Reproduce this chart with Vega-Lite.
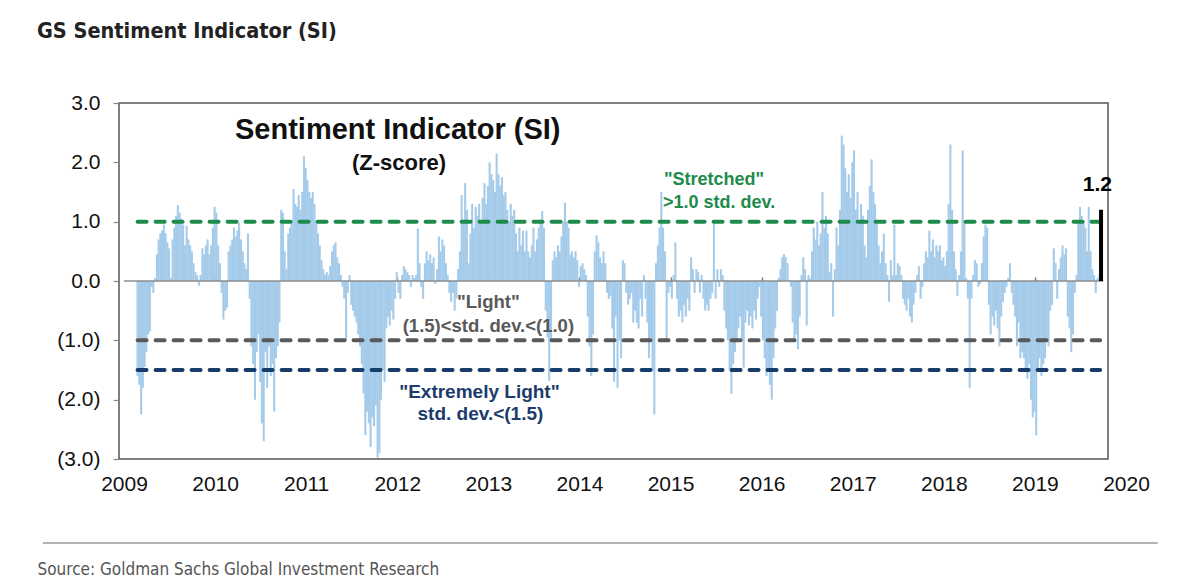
{
"$schema": "https://vega.github.io/schema/vega-lite/v6.json",
"width": 989,
"height": 356,
"autosize": {"type": "none"},
"padding": {"left": 119, "top": 103, "right": 92, "bottom": 127},
"background": "white",
"config": {
  "view": {"stroke": "#555555", "strokeWidth": 1.5},
  "axis": {"grid": false},
  "font": "Liberation Sans, Arial, sans-serif"
},
"title": {
  "text": "GS Sentiment Indicator (SI)",
  "anchor": "start",
  "frame": "group",
  "dx": -82,
  "offset": 33,
  "baseline": "alphabetic",
  "font": "Liberation Sans Narrow, DejaVu Sans Condensed, Liberation Sans, sans-serif",
  "fontSize": 21.5,
  "fontWeight": "bold",
  "color": "#222222"
},
"data": {"values": [
{"t":2009.149,"v":-1.6},{"t":2009.168,"v":-1.75},{"t":2009.188,"v":-2.25},{"t":2009.207,"v":-1.8},{"t":2009.226,"v":-1.45},{"t":2009.245,"v":-1.2},{"t":2009.264,"v":-0.9},{"t":2009.284,"v":-0.85},{"t":2009.303,"v":-0.1},{"t":2009.322,"v":-0.2},{"t":2009.341,"v":0.05},{"t":2009.361,"v":0.45},{"t":2009.38,"v":0.7},{"t":2009.399,"v":0.8},{"t":2009.418,"v":0.85},{"t":2009.438,"v":0.95},{"t":2009.457,"v":0.8},{"t":2009.476,"v":0.65},{"t":2009.495,"v":0.55},{"t":2009.514,"v":0.05},{"t":2009.534,"v":0.7},{"t":2009.553,"v":0.9},{"t":2009.572,"v":1.1},{"t":2009.591,"v":1.28},{"t":2009.611,"v":1.15},{"t":2009.63,"v":1.05},{"t":2009.649,"v":0.95},{"t":2009.668,"v":0.6},{"t":2009.688,"v":0.93},{"t":2009.707,"v":0.7},{"t":2009.726,"v":0.6},{"t":2009.745,"v":0.5},{"t":2009.764,"v":0.3},{"t":2009.784,"v":0.15},{"t":2009.803,"v":0.1},{"t":2009.822,"v":-0.08},{"t":2009.841,"v":0.1},{"t":2009.861,"v":0.55},{"t":2009.88,"v":0.45},{"t":2009.899,"v":0.6},{"t":2009.918,"v":0.7},{"t":2009.938,"v":0.45},{"t":2009.957,"v":0.6},{"t":2009.976,"v":0.9},{"t":2009.995,"v":1.25},
{"t":2010.014,"v":1.15},{"t":2010.034,"v":0.6},{"t":2010.053,"v":0.3},{"t":2010.072,"v":-0.2},{"t":2010.091,"v":-0.65},{"t":2010.111,"v":-0.5},{"t":2010.13,"v":-0.45},{"t":2010.149,"v":0.5},{"t":2010.168,"v":0.6},{"t":2010.188,"v":0.7},{"t":2010.207,"v":0.9},{"t":2010.226,"v":0.75},{"t":2010.245,"v":0.85},{"t":2010.264,"v":0.98},{"t":2010.284,"v":0.7},{"t":2010.303,"v":0.5},{"t":2010.322,"v":0.3},{"t":2010.341,"v":0.2},{"t":2010.361,"v":0.8},{"t":2010.38,"v":-0.3},{"t":2010.399,"v":-1.1},{"t":2010.418,"v":-1.4},{"t":2010.438,"v":-2.0},{"t":2010.457,"v":-1.2},{"t":2010.476,"v":-0.9},{"t":2010.495,"v":-1.7},{"t":2010.514,"v":-2.4},{"t":2010.534,"v":-2.7},{"t":2010.553,"v":-1.2},{"t":2010.572,"v":-1.8},{"t":2010.591,"v":-1.1},{"t":2010.611,"v":-1.6},{"t":2010.63,"v":-1.4},{"t":2010.649,"v":-2.2},{"t":2010.668,"v":-1.3},{"t":2010.688,"v":-1.1},{"t":2010.707,"v":-0.7},{"t":2010.726,"v":1.2},{"t":2010.745,"v":1.15},{"t":2010.764,"v":0.5},{"t":2010.784,"v":0.2},{"t":2010.803,"v":0.8},{"t":2010.822,"v":0.9},{"t":2010.841,"v":1.0},{"t":2010.861,"v":1.55},{"t":2010.88,"v":1.3},{"t":2010.899,"v":1.25},{"t":2010.918,"v":1.45},{"t":2010.938,"v":1.2},{"t":2010.957,"v":1.5},{"t":2010.976,"v":2.1},{"t":2010.995,"v":1.9},
{"t":2011.014,"v":1.7},{"t":2011.034,"v":1.5},{"t":2011.053,"v":1.4},{"t":2011.072,"v":1.5},{"t":2011.091,"v":1.3},{"t":2011.111,"v":1.0},{"t":2011.13,"v":0.8},{"t":2011.149,"v":0.6},{"t":2011.168,"v":0.35},{"t":2011.188,"v":0.2},{"t":2011.207,"v":0.1},{"t":2011.226,"v":0.15},{"t":2011.245,"v":0.1},{"t":2011.264,"v":0.25},{"t":2011.284,"v":0.5},{"t":2011.303,"v":0.6},{"t":2011.322,"v":0.65},{"t":2011.341,"v":0.4},{"t":2011.361,"v":0.3},{"t":2011.38,"v":0.1},{"t":2011.399,"v":-0.1},{"t":2011.418,"v":-0.3},{"t":2011.438,"v":-1.0},{"t":2011.457,"v":-0.2},{"t":2011.476,"v":0.1},{"t":2011.495,"v":-0.4},{"t":2011.514,"v":-0.5},{"t":2011.534,"v":-0.6},{"t":2011.553,"v":-0.7},{"t":2011.572,"v":-0.9},{"t":2011.591,"v":-1.1},{"t":2011.611,"v":-1.4},{"t":2011.63,"v":-1.9},{"t":2011.649,"v":-2.6},{"t":2011.668,"v":-2.2},{"t":2011.688,"v":-2.4},{"t":2011.707,"v":-2.8},{"t":2011.726,"v":-2.3},{"t":2011.745,"v":-2.45},{"t":2011.764,"v":-2.1},{"t":2011.784,"v":-2.98},{"t":2011.803,"v":-2.9},{"t":2011.822,"v":-2.0},{"t":2011.841,"v":-1.5},{"t":2011.861,"v":-1.7},{"t":2011.88,"v":-0.8},{"t":2011.899,"v":-0.6},{"t":2011.918,"v":-0.75},{"t":2011.938,"v":-0.5},{"t":2011.957,"v":-0.65},{"t":2011.976,"v":-0.3},{"t":2011.995,"v":0.15},
{"t":2012.014,"v":-0.2},{"t":2012.034,"v":-0.3},{"t":2012.053,"v":0.1},{"t":2012.072,"v":0.25},{"t":2012.091,"v":0.2},{"t":2012.111,"v":0.15},{"t":2012.13,"v":0.1},{"t":2012.149,"v":-0.1},{"t":2012.168,"v":0.1},{"t":2012.188,"v":0.05},{"t":2012.207,"v":0.1},{"t":2012.226,"v":0.88},{"t":2012.245,"v":0.3},{"t":2012.264,"v":-0.1},{"t":2012.284,"v":-0.3},{"t":2012.303,"v":0.3},{"t":2012.322,"v":0.5},{"t":2012.341,"v":0.35},{"t":2012.361,"v":0.45},{"t":2012.38,"v":0.3},{"t":2012.399,"v":0.4},{"t":2012.418,"v":-0.05},{"t":2012.438,"v":0.2},{"t":2012.457,"v":0.75},{"t":2012.476,"v":0.5},{"t":2012.495,"v":0.7},{"t":2012.514,"v":0.6},{"t":2012.534,"v":0.3},{"t":2012.553,"v":0.1},{"t":2012.572,"v":-0.2},{"t":2012.591,"v":-0.35},{"t":2012.611,"v":-0.2},{"t":2012.63,"v":-0.5},{"t":2012.649,"v":-0.3},{"t":2012.668,"v":0.2},{"t":2012.688,"v":0.5},{"t":2012.707,"v":1.45},{"t":2012.726,"v":1.0},{"t":2012.745,"v":1.65},{"t":2012.764,"v":1.2},{"t":2012.784,"v":0.3},{"t":2012.803,"v":0.8},{"t":2012.822,"v":1.3},{"t":2012.841,"v":0.9},{"t":2012.861,"v":1.25},{"t":2012.88,"v":1.1},{"t":2012.899,"v":1.3},{"t":2012.918,"v":1.0},{"t":2012.938,"v":1.4},{"t":2012.957,"v":1.65},{"t":2012.976,"v":1.3},{"t":2012.995,"v":1.6},
{"t":2013.014,"v":2.0},{"t":2013.034,"v":1.8},{"t":2013.053,"v":1.7},{"t":2013.072,"v":1.5},{"t":2013.091,"v":2.15},{"t":2013.111,"v":1.8},{"t":2013.13,"v":1.6},{"t":2013.149,"v":1.75},{"t":2013.168,"v":1.45},{"t":2013.188,"v":1.5},{"t":2013.207,"v":1.2},{"t":2013.226,"v":1.0},{"t":2013.245,"v":1.3},{"t":2013.264,"v":1.1},{"t":2013.284,"v":1.2},{"t":2013.303,"v":0.8},{"t":2013.322,"v":0.5},{"t":2013.341,"v":0.9},{"t":2013.361,"v":0.6},{"t":2013.38,"v":0.85},{"t":2013.399,"v":0.5},{"t":2013.418,"v":0.85},{"t":2013.438,"v":0.5},{"t":2013.457,"v":0.4},{"t":2013.476,"v":0.6},{"t":2013.495,"v":0.9},{"t":2013.514,"v":0.5},{"t":2013.534,"v":0.7},{"t":2013.553,"v":0.9},{"t":2013.572,"v":1.0},{"t":2013.591,"v":1.18},{"t":2013.611,"v":0.9},{"t":2013.63,"v":-0.5},{"t":2013.649,"v":-0.95},{"t":2013.668,"v":-1.68},{"t":2013.688,"v":-1.0},{"t":2013.707,"v":0.35},{"t":2013.726,"v":0.5},{"t":2013.745,"v":0.4},{"t":2013.764,"v":0.6},{"t":2013.784,"v":0.5},{"t":2013.803,"v":0.75},{"t":2013.822,"v":1.0},{"t":2013.841,"v":1.32},{"t":2013.861,"v":1.0},{"t":2013.88,"v":0.9},{"t":2013.899,"v":0.45},{"t":2013.918,"v":0.5},{"t":2013.938,"v":0.4},{"t":2013.957,"v":0.5},{"t":2013.976,"v":0.35},{"t":2013.995,"v":-0.1},
{"t":2014.014,"v":0.25},{"t":2014.034,"v":0.3},{"t":2014.053,"v":0.2},{"t":2014.072,"v":0.1},{"t":2014.091,"v":-0.6},{"t":2014.111,"v":-1.1},{"t":2014.13,"v":-1.6},{"t":2014.149,"v":-0.9},{"t":2014.168,"v":0.5},{"t":2014.188,"v":0.77},{"t":2014.207,"v":0.65},{"t":2014.226,"v":0.4},{"t":2014.245,"v":0.3},{"t":2014.264,"v":0.5},{"t":2014.284,"v":0.3},{"t":2014.303,"v":-0.2},{"t":2014.322,"v":-0.3},{"t":2014.341,"v":-0.25},{"t":2014.361,"v":-0.8},{"t":2014.38,"v":-1.7},{"t":2014.399,"v":-0.6},{"t":2014.418,"v":-1.8},{"t":2014.438,"v":-1.0},{"t":2014.457,"v":-1.3},{"t":2014.476,"v":0.35},{"t":2014.495,"v":0.3},{"t":2014.514,"v":-0.2},{"t":2014.534,"v":-0.4},{"t":2014.553,"v":-0.3},{"t":2014.572,"v":-0.2},{"t":2014.591,"v":-0.7},{"t":2014.611,"v":-0.5},{"t":2014.63,"v":-0.7},{"t":2014.649,"v":-0.8},{"t":2014.668,"v":-0.3},{"t":2014.688,"v":-0.6},{"t":2014.707,"v":0.1},{"t":2014.726,"v":-0.3},{"t":2014.745,"v":-0.7},{"t":2014.764,"v":-1.3},{"t":2014.784,"v":-1.0},{"t":2014.803,"v":-1.5},{"t":2014.822,"v":-2.25},{"t":2014.841,"v":0.3},{"t":2014.861,"v":0.6},{"t":2014.88,"v":0.9},{"t":2014.899,"v":1.5},{"t":2014.918,"v":0.9},{"t":2014.938,"v":0.5},{"t":2014.957,"v":-1.0},{"t":2014.976,"v":-0.2},{"t":2014.995,"v":-0.1},
{"t":2015.014,"v":-0.3},{"t":2015.034,"v":0.1},{"t":2015.053,"v":0.65},{"t":2015.072,"v":-0.3},{"t":2015.091,"v":-0.6},{"t":2015.111,"v":-0.5},{"t":2015.13,"v":-0.7},{"t":2015.149,"v":-0.4},{"t":2015.168,"v":-0.6},{"t":2015.188,"v":-0.3},{"t":2015.207,"v":-0.5},{"t":2015.226,"v":0.4},{"t":2015.245,"v":0.2},{"t":2015.264,"v":-0.2},{"t":2015.284,"v":0.2},{"t":2015.303,"v":0.15},{"t":2015.322,"v":-0.2},{"t":2015.341,"v":0.1},{"t":2015.361,"v":-0.3},{"t":2015.38,"v":-0.5},{"t":2015.399,"v":-0.4},{"t":2015.418,"v":-0.5},{"t":2015.438,"v":-0.3},{"t":2015.457,"v":-0.2},{"t":2015.476,"v":0.99},{"t":2015.495,"v":-0.3},{"t":2015.514,"v":0.2},{"t":2015.534,"v":-0.1},{"t":2015.553,"v":0.2},{"t":2015.572,"v":0.1},{"t":2015.591,"v":-0.5},{"t":2015.611,"v":-0.8},{"t":2015.63,"v":-1.0},{"t":2015.649,"v":-1.5},{"t":2015.668,"v":-1.9},{"t":2015.688,"v":-1.4},{"t":2015.707,"v":-1.2},{"t":2015.726,"v":-1.0},{"t":2015.745,"v":-0.8},{"t":2015.764,"v":-0.6},{"t":2015.784,"v":-1.0},{"t":2015.803,"v":-1.46},{"t":2015.822,"v":-0.7},{"t":2015.841,"v":-0.5},{"t":2015.861,"v":-0.75},{"t":2015.88,"v":-0.6},{"t":2015.899,"v":-0.8},{"t":2015.918,"v":-0.5},{"t":2015.938,"v":-0.65},{"t":2015.957,"v":-0.3},{"t":2015.976,"v":-0.1},{"t":2015.995,"v":-0.6},
{"t":2016.014,"v":-1.0},{"t":2016.034,"v":-1.3},{"t":2016.053,"v":-1.6},{"t":2016.072,"v":-1.5},{"t":2016.091,"v":-1.75},{"t":2016.111,"v":-2.0},{"t":2016.13,"v":-1.3},{"t":2016.149,"v":-0.8},{"t":2016.168,"v":-0.5},{"t":2016.188,"v":0.05},{"t":2016.207,"v":0.2},{"t":2016.226,"v":0.4},{"t":2016.245,"v":0.45},{"t":2016.264,"v":0.4},{"t":2016.284,"v":0.3},{"t":2016.303,"v":0.02},{"t":2016.322,"v":-0.1},{"t":2016.341,"v":-0.7},{"t":2016.361,"v":-1.0},{"t":2016.38,"v":-0.9},{"t":2016.399,"v":-1.15},{"t":2016.418,"v":-0.6},{"t":2016.438,"v":0.1},{"t":2016.457,"v":0.4},{"t":2016.476,"v":0.2},{"t":2016.495,"v":-0.75},{"t":2016.514,"v":0.1},{"t":2016.534,"v":0.05},{"t":2016.553,"v":0.5},{"t":2016.572,"v":0.9},{"t":2016.591,"v":0.7},{"t":2016.611,"v":1.0},{"t":2016.63,"v":0.6},{"t":2016.649,"v":0.8},{"t":2016.668,"v":1.5},{"t":2016.688,"v":0.9},{"t":2016.707,"v":1.1},{"t":2016.726,"v":0.8},{"t":2016.745,"v":0.15},{"t":2016.764,"v":0.3},{"t":2016.784,"v":-0.6},{"t":2016.803,"v":0.2},{"t":2016.822,"v":0.9},{"t":2016.841,"v":0.6},{"t":2016.861,"v":1.2},{"t":2016.88,"v":2.45},{"t":2016.899,"v":2.3},{"t":2016.918,"v":1.9},{"t":2016.938,"v":1.5},{"t":2016.957,"v":1.8},{"t":2016.976,"v":1.4},{"t":2016.995,"v":2.0},
{"t":2017.014,"v":2.2},{"t":2017.034,"v":1.2},{"t":2017.053,"v":1.5},{"t":2017.072,"v":1.0},{"t":2017.091,"v":1.3},{"t":2017.111,"v":1.1},{"t":2017.13,"v":0.6},{"t":2017.149,"v":0.4},{"t":2017.168,"v":1.2},{"t":2017.188,"v":1.6},{"t":2017.207,"v":2.05},{"t":2017.226,"v":1.5},{"t":2017.245,"v":1.3},{"t":2017.264,"v":1.0},{"t":2017.284,"v":0.6},{"t":2017.303,"v":0.3},{"t":2017.322,"v":0.5},{"t":2017.341,"v":0.8},{"t":2017.361,"v":0.3},{"t":2017.38,"v":0.1},{"t":2017.399,"v":-0.35},{"t":2017.418,"v":0.35},{"t":2017.438,"v":0.1},{"t":2017.457,"v":0.95},{"t":2017.476,"v":0.1},{"t":2017.495,"v":0.3},{"t":2017.514,"v":0.25},{"t":2017.534,"v":0.1},{"t":2017.553,"v":-0.3},{"t":2017.572,"v":-0.4},{"t":2017.591,"v":-0.5},{"t":2017.611,"v":-0.3},{"t":2017.63,"v":-0.6},{"t":2017.649,"v":-0.7},{"t":2017.668,"v":-0.4},{"t":2017.688,"v":-0.2},{"t":2017.707,"v":0.1},{"t":2017.726,"v":0.25},{"t":2017.745,"v":-0.3},{"t":2017.764,"v":-0.1},{"t":2017.784,"v":0.3},{"t":2017.803,"v":0.5},{"t":2017.822,"v":0.4},{"t":2017.841,"v":0.85},{"t":2017.861,"v":0.5},{"t":2017.88,"v":0.7},{"t":2017.899,"v":0.4},{"t":2017.918,"v":0.6},{"t":2017.938,"v":0.5},{"t":2017.957,"v":0.6},{"t":2017.976,"v":0.35},{"t":2017.995,"v":0.4},
{"t":2018.014,"v":0.25},{"t":2018.034,"v":0.5},{"t":2018.053,"v":1.3},{"t":2018.072,"v":2.3},{"t":2018.091,"v":1.2},{"t":2018.111,"v":0.5},{"t":2018.13,"v":0.2},{"t":2018.149,"v":-0.25},{"t":2018.168,"v":0.1},{"t":2018.188,"v":0.5},{"t":2018.207,"v":2.2},{"t":2018.226,"v":1.0},{"t":2018.245,"v":0.05},{"t":2018.264,"v":-0.3},{"t":2018.284,"v":-1.8},{"t":2018.303,"v":-0.3},{"t":2018.322,"v":0.1},{"t":2018.341,"v":0.35},{"t":2018.361,"v":0.3},{"t":2018.38,"v":-0.1},{"t":2018.399,"v":-0.05},{"t":2018.418,"v":0.3},{"t":2018.438,"v":0.75},{"t":2018.457,"v":0.95},{"t":2018.476,"v":0.9},{"t":2018.495,"v":-0.4},{"t":2018.514,"v":-0.9},{"t":2018.534,"v":-0.6},{"t":2018.553,"v":-0.75},{"t":2018.572,"v":-0.5},{"t":2018.591,"v":-0.8},{"t":2018.611,"v":-1.1},{"t":2018.63,"v":-0.6},{"t":2018.649,"v":-0.35},{"t":2018.668,"v":-0.2},{"t":2018.688,"v":-0.1},{"t":2018.707,"v":0.05},{"t":2018.726,"v":0.3},{"t":2018.745,"v":-0.2},{"t":2018.764,"v":-0.4},{"t":2018.784,"v":-0.6},{"t":2018.803,"v":-1.1},{"t":2018.822,"v":-0.7},{"t":2018.841,"v":-1.3},{"t":2018.861,"v":-1.2},{"t":2018.88,"v":-1.3},{"t":2018.899,"v":-1.5},{"t":2018.918,"v":-1.65},{"t":2018.938,"v":-1.4},{"t":2018.957,"v":-2.0},{"t":2018.976,"v":-2.3},{"t":2018.995,"v":-2.2},
{"t":2019.014,"v":-2.6},{"t":2019.034,"v":-1.5},{"t":2019.053,"v":-1.3},{"t":2019.072,"v":-1.6},{"t":2019.091,"v":-1.4},{"t":2019.111,"v":-1.3},{"t":2019.13,"v":-1.0},{"t":2019.149,"v":-1.1},{"t":2019.168,"v":-0.5},{"t":2019.188,"v":-0.4},{"t":2019.207,"v":0.55},{"t":2019.226,"v":0.3},{"t":2019.245,"v":-0.3},{"t":2019.264,"v":0.2},{"t":2019.284,"v":0.4},{"t":2019.303,"v":0.6},{"t":2019.322,"v":0.45},{"t":2019.341,"v":0.55},{"t":2019.361,"v":-0.6},{"t":2019.38,"v":-0.8},{"t":2019.399,"v":-1.2},{"t":2019.418,"v":-0.9},{"t":2019.438,"v":-0.2},{"t":2019.457,"v":0.1},{"t":2019.476,"v":1.0},{"t":2019.495,"v":1.25},{"t":2019.514,"v":1.1},{"t":2019.534,"v":1.0},{"t":2019.553,"v":0.9},{"t":2019.572,"v":0.5},{"t":2019.591,"v":1.25},{"t":2019.611,"v":0.5},{"t":2019.63,"v":0.2},{"t":2019.649,"v":0.1},{"t":2019.668,"v":-0.2},{"t":2019.688,"v":0.05},{"t":2019.707,"v":0.1},{"t":2019.726,"v":1.2}
]},
"resolve": {"axis": {"x": "independent"}},
"layer": [
  {
    "mark": {"type": "bar", "width": 2.1, "color": "#a5cbea"},
    "encoding": {
      "x": {"field": "t", "type": "quantitative",
        "scale": {"domain": [2009, 2020], "range": [0, 1012], "nice": false, "zero": false},
        "axis": {"values": [2009,2010,2011,2012,2013,2014,2015,2016,2017,2018,2019,2020], "format": "d",
          "labelFlush": false, "labelOverlap": false, "ticks": false, "tickSize": 0, "domain": false, "grid": false,
          "labelFontSize": 21, "labelColor": "#111111", "labelPadding": 14, "labelFont": "Liberation Sans, Arial, sans-serif",
          "title": "Source: Goldman Sachs Global Investment Research",
          "titleX": -82, "titleY": 115, "titleAlign": "left", "titleAnchor": "start", "titleBaseline": "alphabetic",
          "titleFont": "Liberation Sans Narrow, DejaVu Sans Condensed, Liberation Sans, sans-serif",
          "titleFontSize": 17, "titleFontWeight": "normal", "titleColor": "#555555"}},
      "y": {"field": "v", "type": "quantitative",
        "scale": {"domain": [-3, 3], "nice": false, "zero": false},
        "axis": {"values": [-3,-2,-1,0,1,2,3],
          "labelExpr": "datum.value < 0 ? '(' + format(-datum.value, '.1f') + ')' : format(datum.value, '.1f')",
          "title": null, "domain": false, "grid": false, "tickSize": 6, "tickColor": "#888888", "tickWidth": 1.2,
          "labelFontSize": 21, "labelColor": "#111111", "labelPadding": 13, "labelFont": "Liberation Sans, Arial, sans-serif"}}
    }
  },
  {
    "data": {"values": [{}]},
    "mark": {"type": "rule", "color": "#8c8c8c", "strokeWidth": 1.5},
    "encoding": {
      "x": {"datum": 2009, "type": "quantitative",
        "axis": {"values": [2010,2011,2012,2013,2014,2015,2016,2017,2018,2019], "offset": -178, "labels": false, "domain": false,
          "ticks": true, "tickSize": 4, "tickColor": "#777777", "tickWidth": 1.5, "grid": false, "title": null}},
      "x2": {"datum": 2019.75},
      "y": {"datum": 0, "type": "quantitative"}
    }
  },
  {
    "data": {"values": [{}]},
    "mark": {"type": "rule", "color": "#1e8b4c", "strokeWidth": 4, "strokeDash": [9, 9], "strokeCap": "round"},
    "encoding": {
      "x": {"datum": 2009.149, "type": "quantitative", "axis": null},
      "x2": {"datum": 2019.716},
      "y": {"datum": 1, "type": "quantitative"}
    }
  },
  {
    "data": {"values": [{}]},
    "mark": {"type": "rule", "color": "#595959", "strokeWidth": 4, "strokeDash": [9, 9], "strokeCap": "round"},
    "encoding": {
      "x": {"datum": 2009.149, "type": "quantitative", "axis": null},
      "x2": {"datum": 2019.716},
      "y": {"datum": -1, "type": "quantitative"}
    }
  },
  {
    "data": {"values": [{}]},
    "mark": {"type": "rule", "color": "#173e6a", "strokeWidth": 4, "strokeDash": [9, 9], "strokeCap": "round"},
    "encoding": {
      "x": {"datum": 2009.149, "type": "quantitative", "axis": null},
      "x2": {"datum": 2019.716},
      "y": {"datum": -1.5, "type": "quantitative"}
    }
  },
  {
    "transform": [{"filter": "datum.t > 2019.72"}],
    "mark": {"type": "bar", "width": 4, "color": "#000000"},
    "encoding": {
      "x": {"field": "t", "type": "quantitative", "axis": null},
      "y": {"field": "v", "type": "quantitative"}
    }
  },
  {
    "data": {"values": [{}]},
    "mark": {"type": "rule", "color": "#b3b3b3", "strokeWidth": 2},
    "encoding": {
      "x": {"datum": 2008.109, "type": "quantitative", "axis": null},
      "x2": {"datum": 2020.348},
      "y": {"datum": -4.416, "type": "quantitative"}
    }
  },
  {
    "data": {"values": [{}]},
    "mark": {"type": "text", "text": "Sentiment Indicator (SI)", "fontSize": 29, "fontWeight": "bold", "color": "#111111", "align": "center", "baseline": "middle"},
    "encoding": {"x": {"datum": 2012.005, "type": "quantitative", "axis": null}, "y": {"datum": 2.545, "type": "quantitative"}}
  },
  {
    "data": {"values": [{}]},
    "mark": {"type": "text", "text": "(Z-score)", "fontSize": 22, "fontWeight": "bold", "color": "#111111", "align": "center", "baseline": "middle"},
    "encoding": {"x": {"datum": 2012.02, "type": "quantitative", "axis": null}, "y": {"datum": 1.99, "type": "quantitative"}}
  },
  {
    "data": {"values": [{}]},
    "mark": {"type": "text", "text": "\"Stretched\"", "fontSize": 18, "fontWeight": "bold", "color": "#1e8b4c", "align": "center", "baseline": "middle"},
    "encoding": {"x": {"datum": 2015.478, "type": "quantitative", "axis": null}, "y": {"datum": 1.70, "type": "quantitative"}}
  },
  {
    "data": {"values": [{}]},
    "mark": {"type": "text", "text": ">1.0 std. dev.", "fontSize": 18, "fontWeight": "bold", "color": "#1e8b4c", "align": "center", "baseline": "middle"},
    "encoding": {"x": {"datum": 2015.533, "type": "quantitative", "axis": null}, "y": {"datum": 1.315, "type": "quantitative"}}
  },
  {
    "data": {"values": [{}]},
    "mark": {"type": "text", "text": "\"Light\"", "fontSize": 18.5, "fontWeight": "bold", "color": "#595959", "align": "center", "baseline": "middle"},
    "encoding": {"x": {"datum": 2013.0, "type": "quantitative", "axis": null}, "y": {"datum": -0.354, "type": "quantitative"}}
  },
  {
    "data": {"values": [{}]},
    "mark": {"type": "text", "text": "(1.5)<std. dev.<(1.0)", "fontSize": 18.5, "fontWeight": "bold", "color": "#595959", "align": "center", "baseline": "middle"},
    "encoding": {"x": {"datum": 2013.0, "type": "quantitative", "axis": null}, "y": {"datum": -0.758, "type": "quantitative"}}
  },
  {
    "data": {"values": [{}]},
    "mark": {"type": "text", "text": "\"Extremely Light\"", "fontSize": 19, "fontWeight": "bold", "color": "#1c3d6b", "align": "center", "baseline": "middle"},
    "encoding": {"x": {"datum": 2012.902, "type": "quantitative", "axis": null}, "y": {"datum": -1.871, "type": "quantitative"}}
  },
  {
    "data": {"values": [{}]},
    "mark": {"type": "text", "text": "std. dev.<(1.5)", "fontSize": 19, "fontWeight": "bold", "color": "#1c3d6b", "align": "center", "baseline": "middle"},
    "encoding": {"x": {"datum": 2012.913, "type": "quantitative", "axis": null}, "y": {"datum": -2.242, "type": "quantitative"}}
  },
  {
    "data": {"values": [{}]},
    "mark": {"type": "text", "text": "1.2", "fontSize": 21, "fontWeight": "bold", "color": "#000000", "align": "center", "baseline": "middle"},
    "encoding": {"x": {"datum": 2019.685, "type": "quantitative", "axis": null}, "y": {"datum": 1.618, "type": "quantitative"}}
  }
]
}
